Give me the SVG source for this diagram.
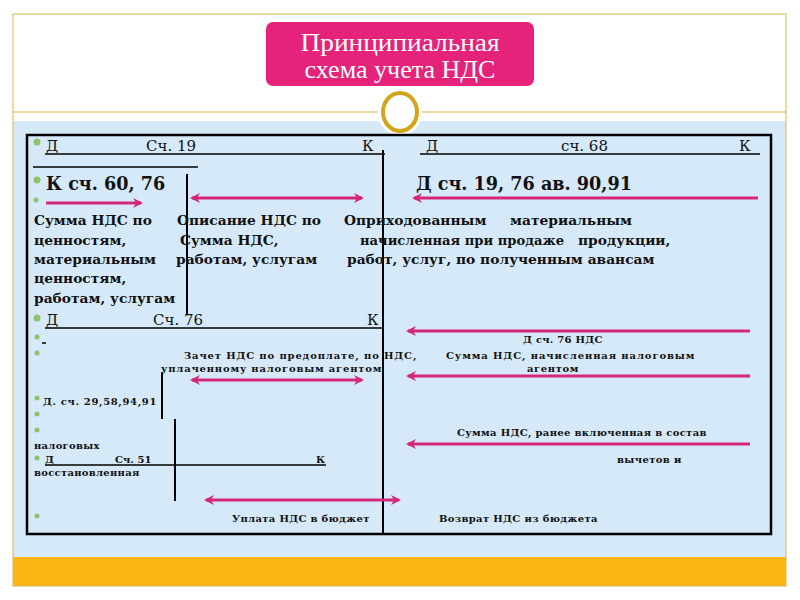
<svg xmlns="http://www.w3.org/2000/svg" width="800" height="600" viewBox="0 0 800 600">
<defs>
<style>
.t{font-family:"DejaVu Serif","Liberation Serif",serif;fill:#111}
.n{font-size:15px}
.m{font-size:13.8px;font-weight:bold}
.s{font-size:10px;font-weight:bold;letter-spacing:0.6px}
.h{font-size:17.6px;font-weight:bold}
.ttl{font-family:"Liberation Serif",serif;font-size:25px;fill:#fff}
.ln{stroke:#000;stroke-width:1.5;fill:none}
.vl{stroke:#000;stroke-width:2;fill:none}
.ar{stroke:#D3287A;stroke-width:3;fill:none}
.dot{fill:#8DC26F}
</style>
<marker id="ah" viewBox="0 0 10 10" refX="8" refY="5" markerWidth="10" markerHeight="10" markerUnits="userSpaceOnUse" orient="auto-start-reverse">
<path d="M0,0 L10,5 L0,10 L3,5 Z" fill="#D3287A"/>
</marker>
</defs>
<rect x="0" y="0" width="800" height="600" fill="#fff"/>
<rect x="13" y="121" width="773" height="437" fill="#D6E9F8"/>
<rect x="13" y="557" width="773" height="29" fill="#FBB713"/>
<rect x="13" y="14" width="773" height="572" fill="none" stroke="#D9B650" stroke-width="1"/>
<line x1="13" y1="112" x2="786" y2="112" stroke="#D9B650" stroke-width="1"/>

<g id="title">
<rect x="266" y="22" width="268" height="64" rx="7" fill="#E6237A"/>
<text class="ttl" x="400" y="51" text-anchor="middle" textLength="199" lengthAdjust="spacingAndGlyphs">Принципиальная</text>
<text class="ttl" x="400" y="78" text-anchor="middle" textLength="191" lengthAdjust="spacingAndGlyphs">схема учета НДС</text>
</g>
<g id="ring">
<ellipse cx="400" cy="112" rx="22" ry="24" fill="#fff"/>
<ellipse cx="400" cy="112" rx="17" ry="19" fill="#fff" stroke="#D4A419" stroke-width="4"/>
</g>

<g id="panel">
<rect x="27" y="135" width="744" height="399" fill="none" stroke="#000" stroke-width="2.5"/>
</g>

<g id="bullets">
<circle class="dot" cx="37" cy="142" r="3.5"/>
<circle class="dot" cx="37" cy="180" r="3.5"/>
<circle class="dot" cx="36" cy="200" r="2.5"/>
<circle class="dot" cx="37" cy="318" r="3.5"/>
<circle class="dot" cx="37" cy="337" r="2.5"/>
<circle class="dot" cx="37" cy="353" r="2.5"/>
<circle class="dot" cx="37" cy="398" r="2.5"/>
<circle class="dot" cx="37" cy="414" r="2.5"/>
<circle class="dot" cx="37" cy="430" r="2.5"/>
<circle class="dot" cx="37" cy="458" r="2.5"/>
<circle class="dot" cx="37" cy="516" r="2.5"/>
</g>

<g id="lines">
<line class="ln" x1="45" y1="154" x2="385" y2="154"/>
<line class="ln" x1="420" y1="154" x2="760" y2="154"/>
<line class="ln" x1="33" y1="167" x2="198" y2="167"/>
<line class="vl" x1="187" y1="174" x2="187" y2="314"/>
<line class="vl" x1="383" y1="150" x2="383" y2="535"/>
<line class="ln" x1="45" y1="328" x2="383" y2="328"/>
<line class="ln" x1="42" y1="343" x2="46" y2="343"/>
<line class="vl" x1="162" y1="372" x2="162" y2="419"/>
<line class="vl" x1="175" y1="419" x2="175" y2="501"/>
<line class="ln" x1="45" y1="465" x2="326" y2="465"/>
</g>

<g id="connectors">
<line class="ar" x1="46" y1="203" x2="141" y2="203" marker-end="url(#ah)"/>
<line class="ar" x1="192" y1="198" x2="362" y2="198" marker-start="url(#ah)" marker-end="url(#ah)"/>
<line class="ar" x1="758" y1="198" x2="414" y2="198" marker-end="url(#ah)"/>
<line class="ar" x1="750" y1="331" x2="408" y2="331" marker-end="url(#ah)"/>
<line class="ar" x1="750" y1="376" x2="408" y2="376" marker-end="url(#ah)"/>
<line class="ar" x1="192" y1="380" x2="362" y2="380" marker-start="url(#ah)" marker-end="url(#ah)"/>
<line class="ar" x1="750" y1="444" x2="408" y2="444" marker-end="url(#ah)"/>
<line class="ar" x1="206" y1="500" x2="399" y2="500" marker-start="url(#ah)" marker-end="url(#ah)"/>
</g>

<g id="texts">
<text class="t n" x="46" y="151">Д</text>
<text class="t n" x="146" y="151">Сч. 19</text>
<text class="t n" x="362" y="151">К</text>
<text class="t n" x="426" y="151">Д</text>
<text class="t n" x="561" y="151">сч. 68</text>
<text class="t n" x="739" y="151">К</text>

<text class="t h" x="46" y="190">К сч. 60, 76</text>
<text class="t h" x="416" y="190">Д сч. 19, 76 ав. 90,91</text>

<text class="t m" x="34" y="225">Сумма НДС по</text>
<text class="t m" x="34" y="245">ценностям,</text>
<text class="t m" x="34" y="264">материальным</text>
<text class="t m" x="34" y="283">ценностям,</text>
<text class="t m" x="34" y="303">работам, услугам</text>
<text class="t m" x="177" y="225">Описание НДС по</text>
<text class="t m" x="180" y="245">Сумма НДС,</text>
<text class="t m" x="176" y="264">работам, услугам</text>
<text class="t m" x="344" y="225">Оприходованным</text>
<text class="t m" x="510" y="225">материальным</text>
<text class="t m" x="360" y="245" textLength="204" lengthAdjust="spacingAndGlyphs">начисленная при продаже</text>
<text class="t m" x="578" y="245">продукции,</text>
<text class="t m" x="347" y="264">работ, услуг, по полученным авансам</text>

<text class="t n" x="46" y="325">Д</text>
<text class="t n" x="153" y="325">Сч. 76</text>
<text class="t n" x="367" y="325">К</text>

<text class="t s" x="523" y="343" textLength="80">Д сч. 76 НДС</text>
<text class="t s" x="184" y="359" textLength="233">Зачет НДС по предоплате, по НДС,</text>
<text class="t s" x="161" y="372" textLength="221">уплаченному налоговым агентом</text>
<text class="t s" x="446" y="359" textLength="249">Сумма НДС, начисленная налоговым</text>
<text class="t s" x="527" y="372" textLength="52">агентом</text>
<text class="t s" x="43" y="405" textLength="114">Д. сч. 29,58,94,91</text>
<text class="t s" x="457" y="436" textLength="250">Сумма НДС, ранее включенная в состав</text>
<text class="t s" x="34" y="449" textLength="66">налоговых</text>
<text class="t s" x="45" y="463">Д</text>
<text class="t s" x="115" y="463" textLength="37">Сч. 51</text>
<text class="t s" x="316" y="463">К</text>
<text class="t s" x="617" y="463" textLength="65">вычетов и</text>
<text class="t s" x="34" y="476" textLength="106">восстановленная</text>
<text class="t s" x="232" y="522" textLength="138">Уплата НДС в бюджет</text>
<text class="t s" x="439" y="522" textLength="159">Возврат НДС из бюджета</text>
</g>
</svg>
